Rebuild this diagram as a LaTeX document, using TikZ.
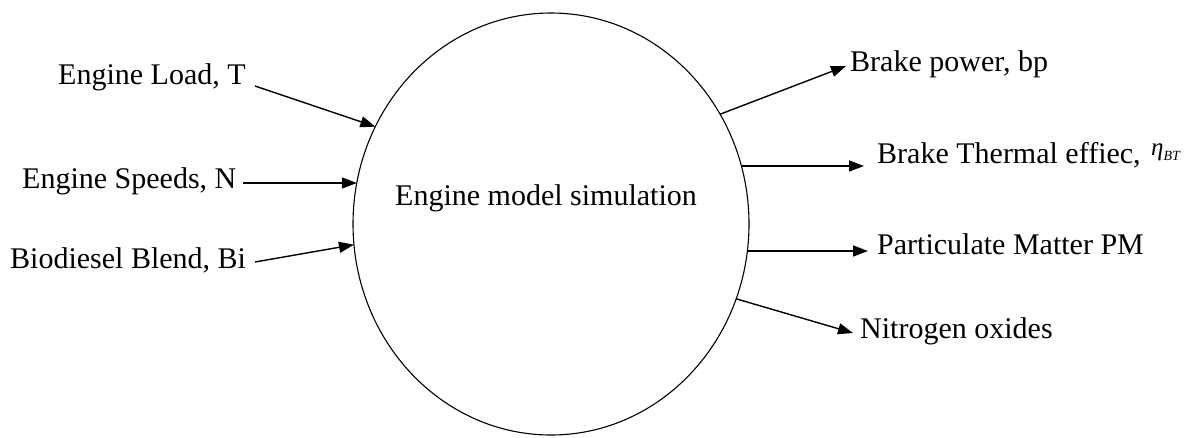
\documentclass[tikz,border=0pt]{standalone}
\usepackage{fontspec}
\setmainfont{Liberation Serif}
\usetikzlibrary{arrows.meta,shapes.geometric}
\begin{document}
\begin{tikzpicture}[x=1pt,y=-1pt,
  lbl/.style={anchor=base west,inner sep=0pt,font=\fontsize{30}{36}\selectfont},
  conn/.style={line width=1.4pt,-{Triangle[length=15pt,width=11pt]}},
  simnode/.style={ellipse,draw,line width=1.1pt,minimum width=396pt,minimum height=422pt,inner sep=0pt,outer sep=0pt}]
\useasboundingbox (0,0) rectangle (1191,437);
\node[simnode] (sim) at (551,224) {};
\node[lbl] (simtxt) at (395,205) {Engine model simulation};
% inputs
\node[lbl] (load) at (58,84) {Engine Load, T};
\node[lbl] (speed) at (22,188) {Engine Speeds, N};
\node[lbl] (blend) at (10,268) {Biodiesel Blend, Bi};
\coordinate (loadS) at (255,86);
\coordinate (speedS) at (243,183);
\coordinate (blendS) at (255,262);
\draw[conn] (loadS) -- (sim.151.9);
\draw[conn] (speedS) -- (sim.168.3 |- speedS);
\draw[conn] (blendS) -- (sim.186.4);
% outputs
\node[lbl] (bp) at (850,71) {Brake power, bp};
\node[lbl] (bte) at (877,163) {Brake Thermal effiec,};
\node[anchor=base west,inner sep=0pt,font=\fontsize{25}{28}\selectfont] (eta) at (1151,155) {\itshape η\raisebox{-5pt}{\fontsize{14}{16}\selectfont BT}};
\node[lbl] (pm) at (877,254) {Particulate Matter PM};
\node[lbl] (nox) at (860,338) {Nitrogen oxides};
\coordinate (bpT) at (846,66);
\coordinate (bteT) at (864,166);
\coordinate (pmT) at (868,251);
\coordinate (noxT) at (853,333);
\draw[conn] (sim.33.5) -- (bpT);
\draw[conn] (sim.16.8 |- bteT) -- (bteT);
\draw[conn] (sim.-7.8 |- pmT) -- (pmT);
\draw[conn] (sim.-22.8) -- (noxT);
\end{tikzpicture}
\end{document}
